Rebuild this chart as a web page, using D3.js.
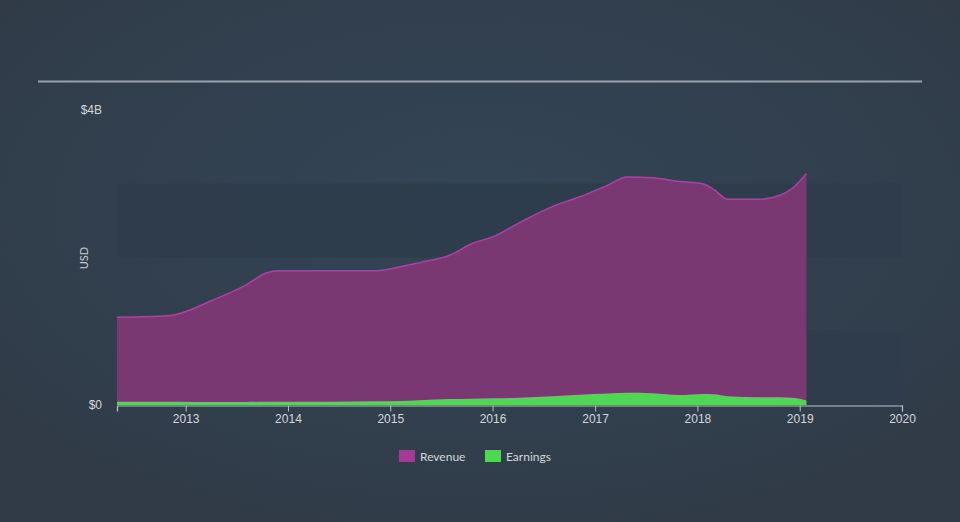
<!DOCTYPE html>
<html>
<head>
<meta charset="utf-8">
<script src="https://cdn.jsdelivr.net/npm/d3@7"></script>
<style>
html,body{margin:0;padding:0;background:#333f4c;}
svg{display:block;font-family:Lato,"Open Sans",sans-serif;}
</style>
</head>
<body>
<svg id="chart" width="960" height="522"></svg>
<script>
const dates = ["2012-05-01","2012-11-01","2012-12-10","2013-03-25","2013-08-05","2013-10-15","2013-12-01","2014-02-10","2014-06-01","2014-11-05","2015-02-01","2015-04-15","2015-08-01","2015-10-20","2016-01-01","2016-04-05","2016-08-01","2016-11-05","2017-02-15","2017-04-25","2017-07-25","2017-10-30","2018-01-20","2018-03-01","2018-04-20","2018-08-10","2018-10-20","2018-12-15","2019-01-25"];
const revenue = [1.19,1.21,1.24,1.40,1.63,1.79,1.82,1.82,1.82,1.82,1.87,1.93,2.03,2.19,2.28,2.47,2.69,2.82,2.98,3.09,3.08,3.03,3.0,2.92,2.79,2.79,2.84,2.97,3.14];
const earnings = [0.045,0.045,0.045,0.04,0.04,0.045,0.045,0.045,0.045,0.05,0.055,0.065,0.08,0.085,0.09,0.10,0.12,0.14,0.155,0.165,0.16,0.135,0.15,0.145,0.12,0.105,0.105,0.095,0.06];
const yearTicks = [2013,2014,2015,2016,2017,2018,2019,2020];
const yTickValues = [0,4];
const yTickLabels = ["$0","$4B"];
const seriesNames = ["Revenue","Earnings"];
const seriesColors = ["#a43a95","#4fd653"];

const svg = d3.select("#chart");
const W = 960, H = 522;

// background radial gradient
const defs = svg.append("defs");
const rg = defs.append("radialGradient").attr("id","bg").attr("cx","50%").attr("cy","40%").attr("r","65%");
rg.append("stop").attr("offset","0%").attr("stop-color","#344557");
rg.append("stop").attr("offset","100%").attr("stop-color","#303b47");
svg.append("rect").attr("width",W).attr("height",H).attr("fill","url(#bg)");

// top rule
svg.append("line").attr("x1",38).attr("x2",922).attr("y1",81.5).attr("y2",81.5)
  .attr("stroke","#98a1ab").attr("stroke-width",2);

const parse = d3.timeParse("%Y-%m-%d");
const data = dates.map((d,i)=>({date:parse(d), rev:revenue[i], earn:earnings[i]}));

const x = d3.scaleTime().domain([parse("2012-05-01"), parse("2020-01-01")]).range([117,902]);
const y = d3.scaleLinear().domain([0,4]).range([405,110]);

// bands
[[0,1],[2,3]].forEach(b=>{
  svg.append("rect").attr("x",117).attr("width",902-117)
    .attr("y",y(b[1])).attr("height",y(b[0])-y(b[1]))
    .attr("fill","#2e3c4b").attr("opacity",0.85);
});

const curve = d3.curveMonotoneX;
const areaRev = d3.area().x(d=>x(d.date)).y0(y(0)).y1(d=>y(d.rev)).curve(curve);
const lineRev = d3.line().x(d=>x(d.date)).y(d=>y(d.rev)).curve(curve);
const areaEarn = d3.area().x(d=>x(d.date)).y0(y(0)).y1(d=>y(d.earn)).curve(curve);

svg.append("path").datum(data).attr("d",areaRev).attr("fill","#7a3873");
svg.append("path").datum(data).attr("d",lineRev).attr("fill","none").attr("stroke","#b23ea5").attr("stroke-width",1.5);
svg.append("path").datum(data).attr("d",areaEarn).attr("fill","#4fd653");

// x axis
const xAxis = d3.axisBottom(x)
  .tickValues(yearTicks.map(yr=>new Date(yr,0,1)))
  .tickFormat(d3.timeFormat("%Y")).tickSizeOuter(0).tickSize(6).tickPadding(3);
const gx = svg.append("g").attr("transform","translate(0,405.5)").call(xAxis);
gx.select(".domain").attr("stroke","#b9c0c7").attr("stroke-width",1.2);
gx.selectAll(".tick line").attr("stroke","#b9c0c7");
gx.selectAll(".tick text").attr("fill","#d3d7db").attr("font-size",12);

// y labels
const yAxis = d3.axisLeft(y).tickValues(yTickValues).tickFormat((d,i)=>yTickLabels[i]).tickSize(0).tickPadding(15);
const gy = svg.append("g").attr("transform","translate(117,0)").call(yAxis);
gy.select(".domain").remove();
gy.selectAll(".tick text").attr("fill","#d3d7db").attr("font-size",12);

svg.append("text").attr("transform","translate(88,258) rotate(-90)")
  .attr("text-anchor","middle").attr("fill","#c8cdd2").attr("font-size",11).text("USD");

// legend
const legendX = [399,485];
seriesNames.forEach((n,i)=>{
  const g = svg.append("g").attr("transform",`translate(${legendX[i]},450)`);
  g.append("rect").attr("width",16).attr("height",12).attr("fill",seriesColors[i]);
  g.append("text").attr("x",21).attr("y",10.5).attr("fill","#d3d7db").attr("font-size",12).text(n);
});
</script>
</body>
</html>
